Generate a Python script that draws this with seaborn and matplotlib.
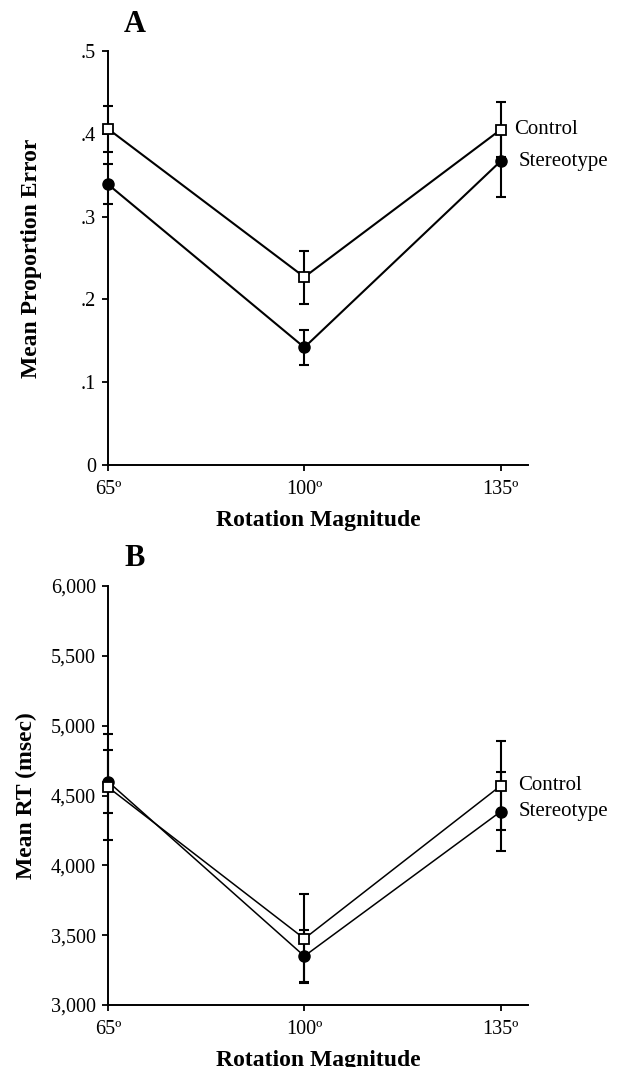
import seaborn as sns
import matplotlib.pyplot as plt
import pandas as pd

# rotation angles and tick labels
angles = [65, 100, 135]
angle_labels = ["65º", "100º", "135º"]

# panel A: mean proportion error (+/- SE)
err_control = [0.406, 0.227, 0.405]
err_control_se = [0.028, 0.032, 0.033]
err_stereo = [0.339, 0.142, 0.367]
err_stereo_se = [0.024, 0.021, 0.043]
err_ticks = [0, 0.1, 0.2, 0.3, 0.4, 0.5]
err_ticklabels = ["0", ".1", ".2", ".3", ".4", ".5"]

# panel B: mean RT in msec (+/- SE)
rt_control = [4560, 3475, 4570]
rt_control_se = [380, 320, 320]
rt_stereo = [4600, 3350, 4385]
rt_stereo_se = [228, 185, 280]
rt_ticks = [3000, 3500, 4000, 4500, 5000, 5500, 6000]
rt_ticklabels = ["3,000", "3,500", "4,000", "4,500", "5,000", "5,500", "6,000"]

sns.set_style("ticks")
plt.rcParams["font.family"] = ["Liberation Serif", "DejaVu Serif"]
plt.rcParams["text.color"] = "black"
plt.rcParams["axes.labelcolor"] = "black"


def draw_panel(ax, control, control_se, stereo, stereo_se, lw, ylim, yticks,
               yticklabels, ylabel, label_x, offsets):
    df = pd.DataFrame({"angle": angles, "control": control, "stereo": stereo})

    # error bars first so the markers sit on top
    for vals, se in [(stereo, stereo_se), (control, control_se)]:
        eb = ax.errorbar(angles, vals, yerr=se, fmt="none", ecolor="black",
                         elinewidth=1.5, capsize=3.5, capthick=1.5, zorder=2)
        for artist in eb.lines[1] + eb.lines[2]:
            artist.set_clip_on(False)

    sns.lineplot(data=df, x="angle", y="stereo", ax=ax, color="black",
                 linewidth=lw, marker="o", markersize=8,
                 markerfacecolor="black", markeredgecolor="black",
                 markeredgewidth=1, clip_on=False, zorder=3)
    sns.lineplot(data=df, x="angle", y="control", ax=ax, color="black",
                 linewidth=lw, marker="s", markersize=7.5,
                 markerfacecolor="white", markeredgecolor="black",
                 markeredgewidth=1.3, clip_on=False, zorder=4)

    # direct labels at the right end of each line
    ax.annotate("Control", (angles[-1], control[-1]), xytext=(offsets[0], 0),
                textcoords="offset pixels", va="center", ha="left", fontsize=15,
                color="black", annotation_clip=False)
    ax.annotate("Stereotype", (angles[-1], stereo[-1]), xytext=(offsets[1], 0),
                textcoords="offset pixels", va="center", ha="left", fontsize=15,
                color="black", annotation_clip=False)

    ax.set_xlim(65, 139.86)
    ax.set_ylim(*ylim)
    ax.set_xticks(angles)
    ax.set_xticklabels(angle_labels)
    ax.set_yticks(yticks)
    ax.set_yticklabels(yticklabels)
    ax.set_xlabel("Rotation Magnitude", fontsize=17, fontweight="bold",
                  labelpad=8)
    ax.set_ylabel(ylabel, fontsize=17, fontweight="bold")
    ax.yaxis.set_label_coords(label_x, 0.5)
    ax.tick_params(direction="out", length=4.5, width=1.3, labelsize=14.5,
                   colors="black")
    ax.tick_params(axis="x", pad=6.5)
    ax.tick_params(axis="y", pad=4)
    sns.despine(ax=ax)
    for side in ["left", "bottom"]:
        ax.spines[side].set_linewidth(1.4)
        ax.spines[side].set_color("black")


fig = plt.figure(figsize=(6.17, 10.67), dpi=100)
ax_a = fig.add_axes([0.175, 0.5642, 0.6807, 0.388])
ax_b = fig.add_axes([0.175, 0.0581, 0.6807, 0.3927])

draw_panel(ax_a, err_control, err_control_se, err_stereo, err_stereo_se,
           1.5, (0, 0.5), err_ticks, err_ticklabels, "Mean Proportion Error",
           -0.156, (13, 18))
draw_panel(ax_b, rt_control, rt_control_se, rt_stereo, rt_stereo_se,
           1.1, (3000, 6000), rt_ticks, rt_ticklabels, "Mean RT (msec)",
           -0.17, (17, 18))

fig.text(135 / 617, 1 - 24 / 1067, "A", fontsize=22, fontweight="bold",
         ha="center", va="center", color="black")
fig.text(135 / 617, 1 - 559 / 1067, "B", fontsize=22, fontweight="bold",
         ha="center", va="center", color="black")

fig.savefig("out.png", dpi=100)
